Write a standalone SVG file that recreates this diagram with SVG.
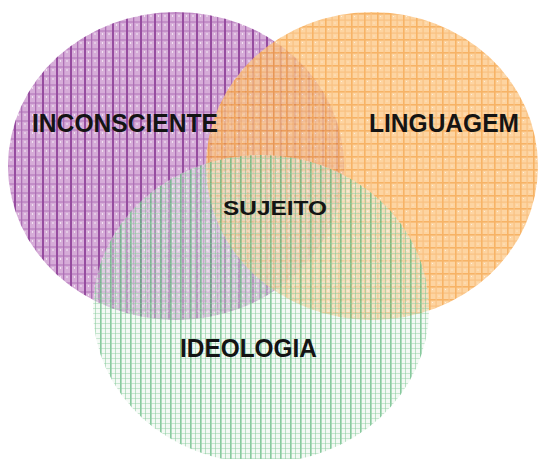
<svg xmlns="http://www.w3.org/2000/svg" width="539" height="459" viewBox="0 0 539 459">
<style>
.lbl{font-family:"Liberation Sans",Arial,sans-serif;font-weight:bold;fill:#141414;text-anchor:middle}
</style>
<defs>
<pattern id="pPurple" patternUnits="userSpaceOnUse" width="14" height="9">
<rect width="14" height="9" fill="#d6acd8"/>
<rect x="0" y="3" width="14" height="2" fill="#c38fc8"/>
<rect x="0" y="0" width="2" height="9" fill="#964c9f"/>
<rect x="7" y="0" width="1.3" height="9" fill="#ad70b5"/>
<circle cx="4.5" cy="7" r="0.7" fill="#ffffff"/>
<circle cx="11" cy="7" r="0.7" fill="#ffffff"/>
</pattern>
<pattern id="pOrange" patternUnits="userSpaceOnUse" width="13" height="13">
<rect width="13" height="13" fill="#fcc98a"/>
<rect x="0" y="0" width="13" height="1.6" fill="#f5a040"/>
<rect x="0" y="6.5" width="13" height="1.2" fill="#f8b262"/>
<rect x="0" y="0" width="1.6" height="13" fill="#f5a040"/>
<rect x="6.5" y="0" width="1.2" height="13" fill="#f8b262"/>
<circle cx="3.5" cy="3.5" r="0.6" fill="#fff0dc"/>
<circle cx="10" cy="10" r="0.6" fill="#fff0dc"/>
</pattern>
<pattern id="pGreen" patternUnits="userSpaceOnUse" width="10" height="10">
<rect width="10" height="10" fill="#e4f3e8" fill-opacity="0.45"/>
<rect x="0" y="0" width="1.6" height="10" fill="#3fa862" fill-opacity="0.6"/>
<rect x="5" y="0" width="1" height="10" fill="#6cc087" fill-opacity="0.45"/>
<rect x="0" y="3" width="10" height="1" fill="#8fcea3" fill-opacity="0.45"/>
<rect x="0" y="8" width="10" height="1" fill="#8fcea3" fill-opacity="0.45"/>
<circle cx="3" cy="6" r="0.7" fill="#ffffff" fill-opacity="0.7"/>
<circle cx="8" cy="1" r="0.7" fill="#ffffff" fill-opacity="0.7"/>
</pattern>
</defs>
<rect width="539" height="459" fill="#ffffff"/>
<g id="inconsciente">
<ellipse cx="176" cy="166" rx="168" ry="154" fill="url(#pPurple)"/>
</g>
<g id="linguagem">
<ellipse cx="372" cy="166" rx="166" ry="154" fill="url(#pOrange)" opacity="0.8"/>
</g>
<g id="ideologia">
<ellipse cx="261" cy="309" rx="168" ry="154" fill="url(#pGreen)"/>
</g>
<g id="connectors"/>
<g id="labels">
<text class="lbl" font-size="25" x="125" y="132" textLength="186" lengthAdjust="spacingAndGlyphs">INCONSCIENTE</text>
<text class="lbl" font-size="25" x="444" y="132" textLength="150" lengthAdjust="spacingAndGlyphs">LINGUAGEM</text>
<text class="lbl" font-size="25" x="248.5" y="357" textLength="137" lengthAdjust="spacingAndGlyphs">IDEOLOGIA</text>
<text class="lbl" font-size="20" x="275" y="215" textLength="104" lengthAdjust="spacingAndGlyphs">SUJEITO</text>
</g>
</svg>
